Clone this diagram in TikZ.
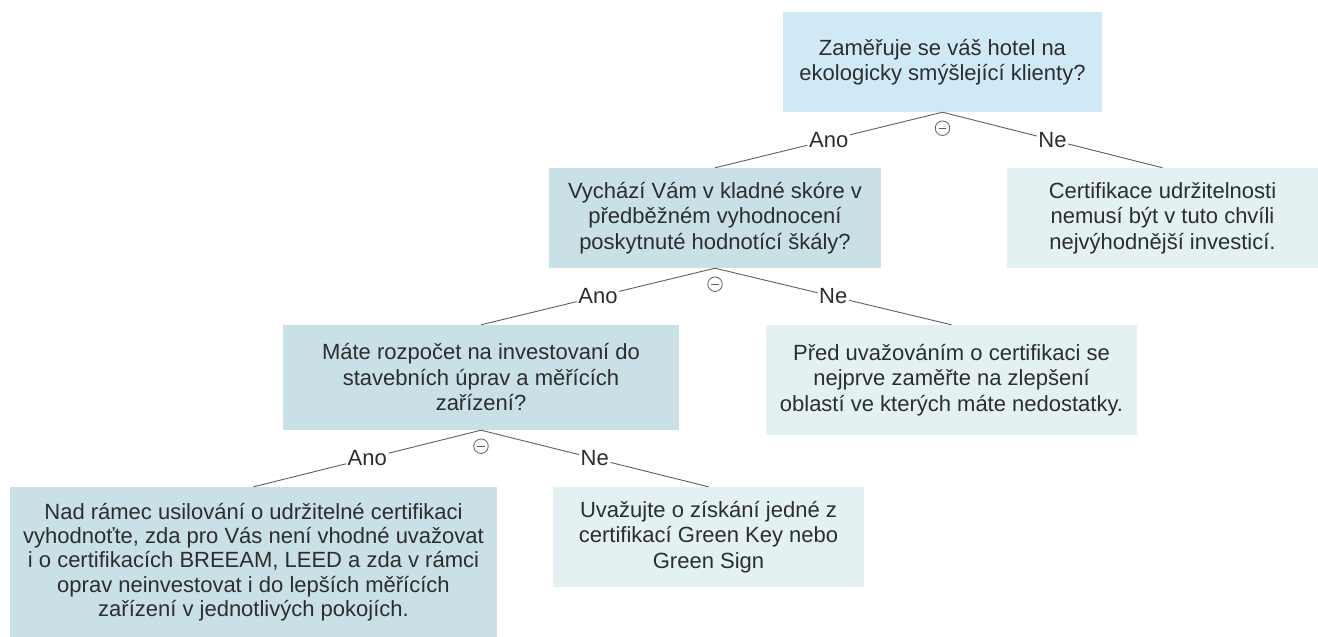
\documentclass[tikz,border=0pt]{standalone}
\usepackage{fontspec}
\setmainfont{Liberation Sans}
\usetikzlibrary{calc}
\definecolor{blueA}{RGB}{207,234,246}
\definecolor{tealA}{RGB}{200,224,230}
\definecolor{lightA}{RGB}{228,241,243}
\definecolor{textc}{RGB}{45,45,45}
\definecolor{linec}{RGB}{95,95,95}
\begin{document}
\begin{tikzpicture}[x=1pt,y=-1pt,
  box/.style={rectangle, inner sep=0pt, align=center, text=textc, font=\fontsize{22}{25.5}\selectfont},
  qbox/.style={box, fill=blueA},
  tbox/.style={box, fill=tealA},
  lbox/.style={box, fill=lightA},
  edge/.style={draw=linec, line width=0.9pt},
  lab/.style={inner sep=1.5pt, text=textc, font=\fontsize{22}{25.5}\selectfont},
  toggle/.style={circle, draw=linec, line width=0.8pt, minimum size=14.5pt, inner sep=0pt,
    path picture={\draw[linec, line width=0.9pt] ([xshift=-3.8pt]path picture bounding box.center) -- ([xshift=3.8pt]path picture bounding box.center);}}
]
\useasboundingbox (0,0) rectangle (1318,637);
\fill[white] (0,0) rectangle (1318,637);

\node[qbox, minimum width=319pt, minimum height=100pt] (b1) at (942.5,62)
  {Zaměřuje se váš hotel na\\ekologicky smýšlející klienty?};
\node[tbox, minimum width=332pt, minimum height=100pt] (b2) at (715,218)
  {Vychází Vám v kladné skóre v\\předběžném vyhodnocení\\poskytnuté hodnotící škály?};
\node[lbox, minimum width=311pt, minimum height=100pt] (b3) at (1162.5,218)
  {Certifikace udržitelnosti\\nemusí být v tuto chvíli\\nejvýhodnější investicí.};
\node[tbox, minimum width=396pt, minimum height=105pt] (b4) at (481,377.5)
  {Máte rozpočet na investovaní do\\stavebních úprav a měřících\\zařízení?};
\node[lbox, minimum width=371pt, minimum height=110pt] (b5) at (951.5,380)
  {Před uvažováním o certifikaci se\\nejprve zaměřte na zlepšení\\oblastí ve kterých máte nedostatky.};
\node[tbox, minimum width=487pt, minimum height=150pt, font=\fontsize{22}{24.2}\selectfont] (b6) at (253.5,562)
  {Nad rámec usilování o udržitelné certifikaci\\vyhodnoťte, zda pro Vás není vhodné uvažovat\\i o certifikacích BREEAM, LEED a zda v rámci\\oprav neinvestovat i do lepších měřících\\zařízení v jednotlivých pokojích.};
\node[lbox, minimum width=311pt, minimum height=100pt] (b7) at (708.5,537)
  {Uvažujte o získání jedné z\\certifikací Green Key nebo\\Green Sign};

\node[lab] (l1) at ($(b1.south)!0.5!(b2.north)$) {Ano};
\node[lab] (l2) at ($(b1.south)!0.5!(b3.north)$) {Ne};
\node[lab] (l3) at ($(b2.south)!0.5!(b4.north)$) {Ano};
\node[lab] (l4) at ($(b2.south)!0.5!(b5.north)$) {Ne};
\node[lab] (l5) at ($(b4.south)!0.5!(b6.north)$) {Ano};
\node[lab] (l6) at ($(b4.south)!0.5!(b7.north)$) {Ne};

\draw[edge] (b1.south) -- (l1) -- (b2.north);
\draw[edge] (b1.south) -- (l2) -- (b3.north);
\draw[edge] (b2.south) -- (l3) -- (b4.north);
\draw[edge] (b2.south) -- (l4) -- (b5.north);
\draw[edge] (b4.south) -- (l5) -- (b6.north);
\draw[edge] (b4.south) -- (l6) -- (b7.north);

\node[toggle] (t1) at ($(b1.south)+(0,16)$) {};
\node[toggle] (t2) at ($(b2.south)+(0,16)$) {};
\node[toggle] (t3) at ($(b4.south)+(0,16)$) {};
\end{tikzpicture}
\end{document}
